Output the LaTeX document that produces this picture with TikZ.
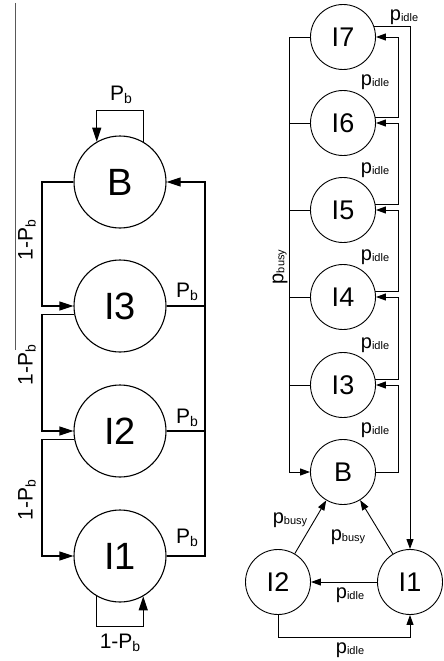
\documentclass[tikz,border=0pt]{standalone}
\usepackage{fontspec}
\setmainfont{Liberation Sans}
\usetikzlibrary{arrows.meta}
\newcommand\subP[2]{#1\raisebox{-0.28ex}{\fontsize{14}{14}\selectfont #2}}
\newcommand\subp[2]{#1\raisebox{-0.1ex}{\fontsize{11}{11}\selectfont #2}}
\begin{document}
\begin{tikzpicture}[x=1pt,y=-1pt,
  lcirc/.style={draw,circle,line width=1.1pt,minimum size=92pt,inner sep=0pt,font=\fontsize{38}{40}\selectfont},
  rcirc/.style={draw,circle,line width=0.9pt,minimum size=65pt,inner sep=0pt,font=\fontsize{27}{28}\selectfont},
  larr/.style={line width=1.1pt,-{Triangle[length=14pt,width=9pt]}},
  lln/.style={line width=1.1pt},
  rarr/.style={line width=0.9pt,-{Triangle[length=10pt,width=7pt]}},
  rln/.style={line width=0.9pt},
  lbl/.style={font=\fontsize{21}{21}\selectfont,inner sep=0pt},
  rlbl/.style={font=\fontsize{20}{20}\selectfont,inner sep=0pt}]
\useasboundingbox (0,0) rectangle (444,661);
% stray line at left edge
\draw[line width=1pt,black!65] (15,3) -- (15,350);
% ---------- left chain ----------
\node[lcirc] (B) at (120,182) {B};
\node[lcirc] (L3) at (120,306) {I3};
\node[lcirc] (L2) at (120,431) {I2};
\node[lcirc] (L1) at (120,556) {I1};
\coordinate (lx) at (42,0);
\coordinate (rx) at (205,0);
% self loop on B
\draw[larr] (B.60) -- ++(0,-31) -| (B.120);
\node[lbl] at (121,95) {\subP{P}{b}};
% 1-Pb transitions
\draw[larr] (B.west) -- (B.west -| lx) |- (L3.west);
\draw[larr] (L3.190) -- (L3.190 -| lx) |- (L2.west);
\draw[larr] (L2.190) -- (L2.190 -| lx) |- (L1.west);
\node[lbl,rotate=90] at (27,240) {1-\subP{P}{b}};
\node[lbl,rotate=90] at (27,365) {1-\subP{P}{b}};
\node[lbl,rotate=90] at (27,500) {1-\subP{P}{b}};
% Pb transitions back to B
\draw[larr] (L1.east) -- (L1.east -| rx) |- (B.east);
\draw[lln] (L3.east) -- (L3.east -| rx);
\draw[lln] (L2.east) -- (L2.east -| rx);
\node[lbl] at (187,292) {\subP{P}{b}};
\node[lbl] at (187,418) {\subP{P}{b}};
\node[lbl] at (187,538) {\subP{P}{b}};
% self loop on I1
\draw[larr] (L1.240) -- ++(0,30) -| (L1.300);
\node[lbl] at (120,643) {1-\subP{P}{b}};
% ---------- right chain ----------
\node[rcirc] (R7) at (343,37) {I7};
\node[rcirc] (R6) at (343,123) {I6};
\node[rcirc] (R5) at (343,210) {I5};
\node[rcirc] (R4) at (343,297) {I4};
\node[rcirc] (R3) at (343,385) {I3};
\node[rcirc] (RB) at (343,472) {B};
\node[rcirc] (R2) at (278,582) {I2};
\node[rcirc] (R1) at (410,582) {I1};
\coordinate (bx) at (289,0);
\coordinate (ix) at (398,0);
% busy bus
\draw[rarr] (R7.west) -- (R7.west -| bx) |- (RB.west);
\foreach \n in {R6,R5,R4,R3} \draw[rln] (\n.west) -- (\n.west -| bx);
\node[rlbl,rotate=90] at (280,267) {\subp{p}{busy}};
% idle chain
\draw[rarr] (R6.10) -- (R6.10 -| ix) |- (R7.east);
\draw[rarr] (R5.10) -- (R5.10 -| ix) |- (R6.east);
\draw[rarr] (R4.10) -- (R4.10 -| ix) |- (R5.east);
\draw[rarr] (R3.10) -- (R3.10 -| ix) |- (R4.east);
\draw[rarr] (RB.east) -- (RB.east -| ix) |- (R3.east);
\node[rlbl] at (375,82) {\subp{p}{idle}};
\node[rlbl] at (375,170) {\subp{p}{idle}};
\node[rlbl] at (375,257) {\subp{p}{idle}};
\node[rlbl] at (375,345) {\subp{p}{idle}};
\node[rlbl] at (375,430) {\subp{p}{idle}};
% outer loop I7 -> I1
\draw[rarr] (R7.18) -| (R1.north);
\node[rlbl] at (404,17) {\subp{p}{idle}};
% bottom triangle
\draw[rarr] (R2) -- (RB);
\draw[rarr] (R1) -- (RB);
\node[rlbl] at (290,520) {\subp{p}{busy}};
\node[rlbl] at (348,537) {\subp{p}{busy}};
\draw[rarr] (R1) -- (R2);
\node[rlbl] at (350,595) {\subp{p}{idle}};
\draw[rarr] (R2.south) -- ++(0,22) -| (R1.south);
\node[rlbl] at (350,650) {\subp{p}{idle}};
\end{tikzpicture}
\end{document}
